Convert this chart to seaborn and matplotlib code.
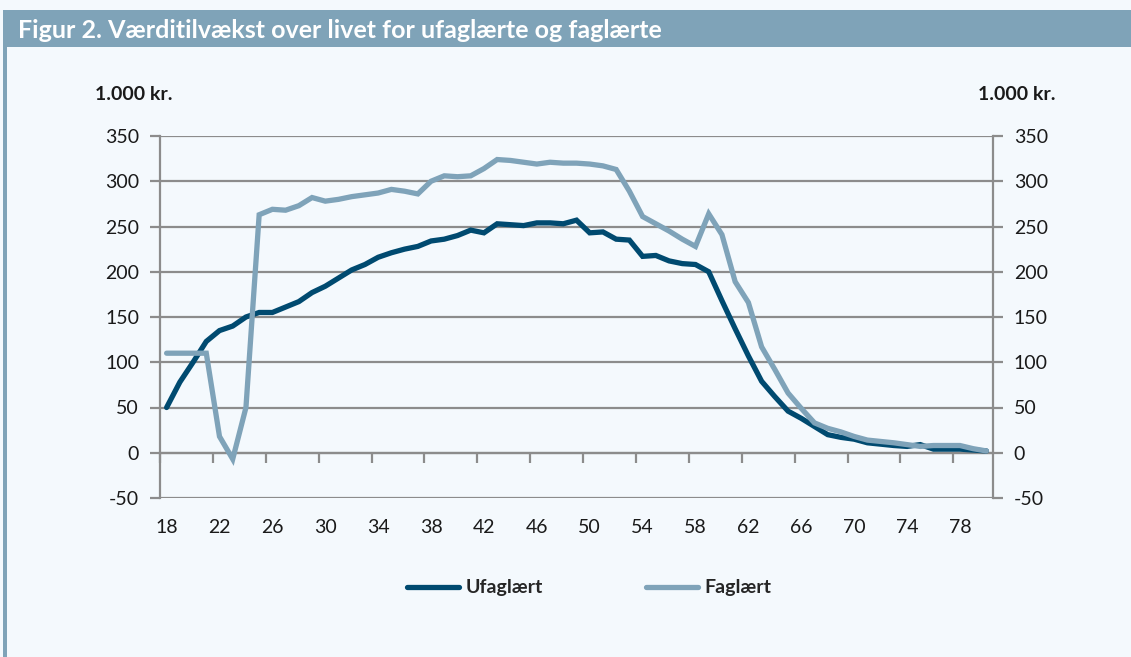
import numpy as np
import pandas as pd
import matplotlib
matplotlib.use("Agg")
import matplotlib.pyplot as plt
from matplotlib.patches import Rectangle
from matplotlib.lines import Line2D
import seaborn as sns

# ---- data ----
ages = list(range(18, 81))
ufaglaert = [50, 78, 100, 123, 135, 140, 150, 155, 155, 161, 167, 177, 184, 193, 202, 208,
             216, 221, 225, 228, 234, 236, 240, 246, 243, 253, 252, 251, 254, 254, 253, 257,
             243, 244, 236, 235, 217, 218, 212, 209, 208, 200, 168, 137, 107, 79, 62, 46,
             38, 29, 20, 17, 15, 11, 9.5, 8, 7, 9, 4, 4, 4, 3, 2]
faglaert = [110, 110, 110, 110, 18, -7, 50, 263, 269, 268, 273, 282, 278, 280, 283, 285,
            287, 291, 289, 286, 300, 306, 305, 306, 314, 324, 323, 321, 319, 321, 320, 320,
            319, 317, 313, 289, 261, 253, 245, 236, 228, 264, 241, 189, 166, 117, 92, 66,
            49, 33, 27, 23, 18, 14, 12.5, 11, 9, 7, 8, 8, 8, 4.5, 2]
series_names = ["Ufaglært", "Faglært"]
xtick_labels = list(range(18, 79, 4))
yticks = list(range(-50, 351, 50))

df = pd.DataFrame({
    "age": ages * 2,
    "value": ufaglaert + faglaert,
    "serie": [series_names[0]] * len(ages) + [series_names[1]] * len(ages),
})

# ---- style ----
W, H = 1131, 657
BG = "#f4f9fd"
BAR = "#7fa3b8"
DARK = "#004a70"
LIGHT = "#7fa3b9"
GRID = "#8c8c8c"
TXT = "#1a1a1a"

sns.set_style("white")
plt.rcParams["font.family"] = ["Lato", "DejaVu Sans"]

fig = plt.figure(figsize=(W / 100, H / 100), dpi=100, facecolor=BG)

def px(x0, y0, x1, y1):
    return [x0 / W, 1 - y1 / H, (x1 - x0) / W, (y1 - y0) / H]

# title bar and left border
fig.patches.append(Rectangle((3 / W, 1 - 47 / H), 1 - 3 / W, 37 / H, transform=fig.transFigure,
                             facecolor=BAR, edgecolor="none", zorder=0))
fig.patches.append(Rectangle((3 / W, 0), 4 / W, 1 - 47 / H, transform=fig.transFigure,
                             facecolor=BAR, edgecolor="none", zorder=0))
fig.text(18 / W, 1 - 30 / H, "Figur 2. Værditilvækst over livet for ufaglærte og faglærte",
         color="white", fontsize=18, fontweight="bold", va="center", ha="left")

ax = fig.add_axes(px(160, 136, 993, 498))
ax.set_facecolor(BG)

sns.lineplot(data=df, x="age", y="value", hue="serie", palette=[DARK, LIGHT],
             linewidth=3.8, ax=ax, legend=False, zorder=3)
for ln in ax.lines:
    ln.set_solid_joinstyle("miter")

ax.set_xlim(17.5, 80.5)
ax.set_ylim(-50, 350)
ax.set_yticks(yticks)
ax.set_yticklabels([str(v) for v in yticks])
ax.yaxis.grid(True, color=GRID, linewidth=1.6)
ax.xaxis.grid(False)
ax.set_xlabel("")
ax.set_ylabel("")

for s in ["left", "right"]:
    ax.spines[s].set_visible(True)
    ax.spines[s].set_color(GRID)
    ax.spines[s].set_linewidth(1.6)
ax.spines["top"].set_visible(False)
ax.spines["bottom"].set_position(("data", 0))
ax.spines["bottom"].set_color(GRID)
ax.spines["bottom"].set_linewidth(1.6)

ax.tick_params(axis="y", which="both", left=True, right=True, labelleft=True, labelright=True,
               length=7, width=1.6, color=GRID, direction="out", labelsize=14, pad=8,
               labelcolor=TXT)

# category boundary ticks on the zero line
ax.set_xticks([a - 0.5 for a in xtick_labels])
ax.set_xticklabels([])
ax.tick_params(axis="x", which="both", bottom=True, length=7, width=1.6, color=GRID,
               direction="out")

# tick labels below the plot
sec = ax.secondary_xaxis("bottom")
sec.set_xticks(xtick_labels)
sec.set_xticklabels([str(v) for v in xtick_labels])
sec.tick_params(length=0, labelsize=14, pad=15, labelcolor=TXT)
sec.spines["bottom"].set_visible(False)

fig.text(95 / W, 1 - 95 / H, "1.000 kr.", fontsize=14, fontweight="bold", va="center",
         ha="left", color=TXT)
fig.text(978 / W, 1 - 95 / H, "1.000 kr.", fontsize=14, fontweight="bold", va="center",
         ha="left", color=TXT)

handles = [Line2D([], [], color=DARK, linewidth=3.8), Line2D([], [], color=LIGHT, linewidth=3.8)]
fig.legend(handles, series_names, loc="center", bbox_to_anchor=(589 / W, 1 - 588 / H), ncol=2,
           frameon=False, prop={"weight": "bold", "size": 14}, handlelength=2.7,
           handletextpad=0.3, columnspacing=5.3)

fig.savefig("out.png", dpi=100, facecolor=BG)
